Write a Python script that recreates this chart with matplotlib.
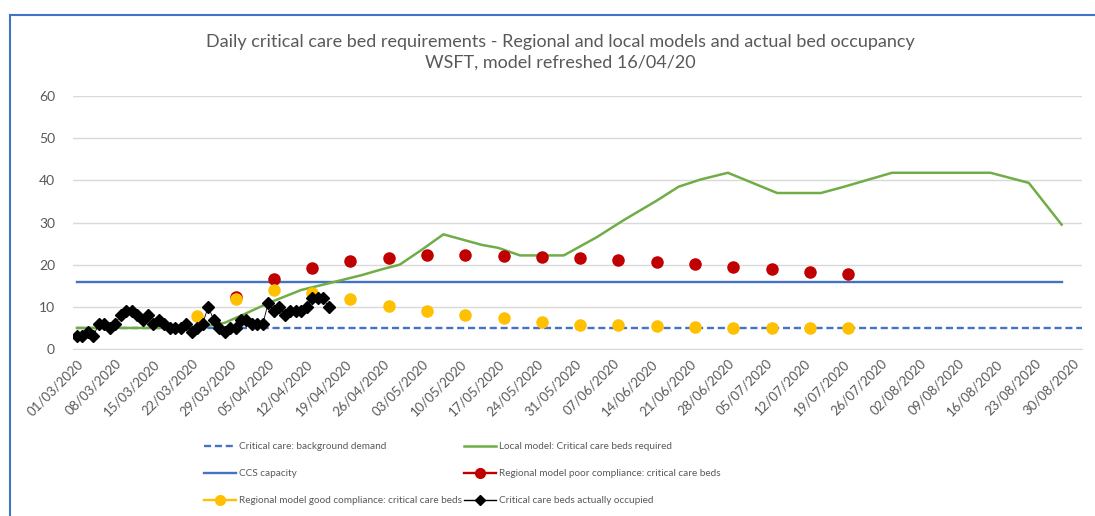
import matplotlib
matplotlib.use('Agg')
import matplotlib.pyplot as plt
import matplotlib.dates as mdates
from matplotlib.lines import Line2D
import pandas as pd

plt.rcParams['font.family'] = ['Lato', 'DejaVu Sans']

start = pd.Timestamp('2020-03-01')

# Local model: critical care beds required (vertices, days from 01/03)
local_days = [0, 22, 27, 31, 35, 41, 47, 52, 56, 59, 63, 67, 74, 77, 81, 89,
              95, 100, 106, 110, 114, 119, 128, 136, 140, 149, 167, 174, 180]
local_vals = [5, 5, 6.2, 8.5, 10.9, 14, 15.9, 17.5, 19, 20, 23.5, 27.2, 24.7, 24, 22.2, 22.2,
              26.5, 30.6, 35.2, 38.5, 40.2, 41.8, 37, 37, 38.4, 41.8, 41.8, 39.4, 29.5]

# Background demand and CCS capacity
background_days = [0, 184]
background_vals = [5, 5]
ccs_days = [0, 180]
ccs_vals = [16, 16]

# Regional model, poor compliance (weekly from 30/03)
poor_dates = pd.date_range('2020-03-30', '2020-07-20', freq='7D')
poor_vals = [12.3, 16.7, 19.3, 20.8, 21.7, 22.2, 22.2, 22.0, 21.9, 21.5, 21.1,
             20.6, 20.1, 19.5, 18.9, 18.3, 17.8]

# Regional model, good compliance (weekly from 23/03)
good_dates = pd.date_range('2020-03-23', '2020-07-20', freq='7D')
good_vals = [7.8, 11.8, 14.0, 13.4, 11.9, 10.3, 9.1, 8.1, 7.3, 6.5, 5.8, 5.7,
             5.4, 5.2, 5.1, 4.9, 4.9, 4.9]

# Critical care beds actually occupied (daily from 01/03)
actual_dates = pd.date_range('2020-03-01', periods=47, freq='D')
actual_vals = [3, 3, 4, 3, 6, 6, 5, 6, 8, 9, 9, 8, 7, 8, 6, 7, 6, 5, 5, 5, 6, 4, 5, 6,
               10, 7, 5, 4, 5, 5, 7, 7, 6, 6, 6, 11, 9, 10, 8, 9, 9, 9, 10, 12, 12, 12, 10]

tick_dates = pd.date_range('2020-03-01', '2020-08-30', freq='7D')


def to_dates(days):
    return [start + pd.Timedelta(days=d) for d in days]


fig = plt.figure(figsize=(10.95, 5.16), dpi=100)
ax = fig.add_axes([0.0667, 0.3236, 0.9213, 0.4903])

grey = '#595959'
ax.plot(to_dates(background_days), background_vals, '--', color='#4472C4', lw=1.7,
        dashes=(3, 1.6), zorder=2)
ax.plot(to_dates(ccs_days), ccs_vals, color='#4472C4', lw=1.7, zorder=2)
ax.plot(to_dates(local_days), local_vals, color='#70AD47', lw=1.8, zorder=3)
ax.plot(poor_dates, poor_vals, 'o', color='#C00000', ms=8, mec='#C00000', zorder=4)
ax.plot(good_dates, good_vals, 'o', color='#FFC000', ms=8, mec='#FFC000', zorder=5)
ax.plot(actual_dates, actual_vals, '-D', color='black', lw=0.6, ms=6, zorder=6)

ax.set_ylim(0, 60)
ax.set_yticks(range(0, 61, 10))
ax.set_xlim(mdates.date2num(start) - 0.7, mdates.date2num(start) + 183.7)
ax.set_xticks(tick_dates)
ax.set_xticklabels([d.strftime('%d/%m/%Y') for d in tick_dates], rotation=45,
                   ha='right', rotation_mode='anchor')
ax.tick_params(axis='both', length=0, colors=grey, labelsize=9.5)
ax.tick_params(axis='x', pad=6)
ax.tick_params(axis='y', pad=13, labelsize=10)
ax.grid(axis='y', color='#D9D9D9', lw=1)
ax.set_axisbelow(True)
for s in ['top', 'right', 'left']:
    ax.spines[s].set_visible(False)
ax.spines['bottom'].set_color('#D9D9D9')

fig.text(0.512, 0.918, 'Daily critical care bed requirements - Regional and local models and actual bed occupancy',
         ha='center', va='center', fontsize=13, color=grey)
fig.text(0.512, 0.879, 'WSFT, model refreshed 16/04/20', ha='center', va='center',
         fontsize=13, color=grey)

handles = [
    Line2D([], [], color='#4472C4', ls='--', lw=1.7, dashes=(3, 1.6)),
    Line2D([], [], color='#4472C4', lw=1.7),
    Line2D([], [], color='#FFC000', lw=1.7, marker='o', ms=7),
    Line2D([], [], color='#70AD47', lw=1.8),
    Line2D([], [], color='#C00000', lw=1.7, marker='o', ms=7),
    Line2D([], [], color='black', lw=1, marker='D', ms=5),
]
labels = ['Critical care: background demand', 'CCS capacity',
          'Regional model good compliance: critical care beds',
          'Local model: Critical care beds required',
          'Regional model poor compliance: critical care beds',
          'Critical care beds actually occupied']
leg = fig.legend(handles, labels, ncol=2, loc='upper left', bbox_to_anchor=(0.178, 0.160),
                 frameon=False, fontsize=7.2, handlelength=3.2, handletextpad=0.3,
                 columnspacing=0.2, labelspacing=1.8, labelcolor=grey)

# chart border (left and top edges)
fig.add_artist(Line2D([0.0095, 0.0095], [0, 0.971], color='#4472C4', lw=1.5))
fig.add_artist(Line2D([0.0095, 1], [0.971, 0.971], color='#4472C4', lw=1.5))

fig.savefig('out.png', dpi=100)
